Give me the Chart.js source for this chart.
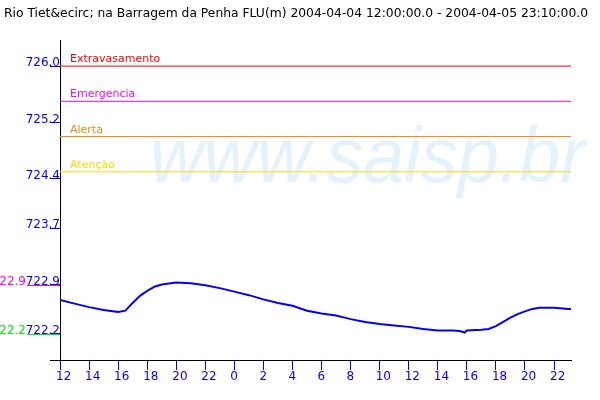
<!DOCTYPE html>
<html><head><meta charset="utf-8">
<script src="https://cdn.jsdelivr.net/npm/chart.js@4/dist/chart.umd.min.js"></script>
<style>html,body{margin:0;padding:0;background:#fff}</style>
</head><body>
<canvas id="c" width="600" height="400"></canvas>
<script>
const titleText = 'Rio Tiet&ecirc; na Barragem da Penha FLU(m) 2004-04-04 12:00:00.0 - 2004-04-05 23:10:00.0';
const watermarkText = 'www.saisp.br';
const startHour = 12;
const endHours = 35 + 10 / 60; // 2004-04-05 23:10
// hours elapsed since 2004-04-04 12:00
const hours = [0, 1, 2, 3, 4, 4.5, 5, 5.5, 6, 6.5, 7, 8, 9, 10, 11, 12, 13, 14, 15, 16, 17, 18, 19, 20, 21, 22, 23, 24, 25, 26, 27, 27.5, 27.85, 28, 29, 29.5, 30, 30.5, 31, 31.5, 32, 32.5, 33, 34, 35, 35 + 10 / 60];
const levels = [722.68, 722.63, 722.58, 722.54, 722.51, 722.53, 722.64, 722.74, 722.81, 722.87, 722.90, 722.93, 722.92, 722.89, 722.85, 722.80, 722.75, 722.69, 722.64, 722.60, 722.53, 722.49, 722.46, 722.41, 722.37, 722.34, 722.32, 722.30, 722.27, 722.25, 722.25, 722.24, 722.22, 722.25, 722.26, 722.27, 722.31, 722.37, 722.43, 722.48, 722.52, 722.555, 722.57, 722.57, 722.555, 722.555];
const thresholdNames = ['Extravasamento', 'Emergencia', 'Alerta', 'Atenção'];
const thresholdValues = [726.0, 725.5, 725.0, 724.5];
const thresholdColors = ['#ff0000', '#ff00ff', '#f7860f', '#ffd800'];
const yTickValues = [722.2, 722.9, 723.7, 724.4, 725.2, 726.0];
const xTickHours = [0, 2, 4, 6, 8, 10, 12, 14, 16, 18, 20, 22, 24, 26, 28, 30, 32, 34];
const markerValues = [722.9, 722.2]; // max / min
const markerColors = ['#ff00ff', '#00ee00'];
const yMin = 721.83, yMax = 726.37;

Chart.defaults.font.family = '"DejaVu Sans", sans-serif';

const datasets = thresholdValues.map((v, i) => ({
  label: thresholdNames[i],
  data: [{x: 0, y: v}, {x: endHours, y: v}],
  borderColor: thresholdColors[i], borderWidth: 1, pointRadius: 0
}));
datasets.push({
  label: 'Nivel',
  data: hours.map((h, i) => ({x: h, y: levels[i]})),
  borderColor: '#0000ff', borderWidth: 2, pointRadius: 0, tension: 0
});

const deco = {
  id: 'deco',
  beforeDraw(chart) {
    const ctx = chart.ctx;
    ctx.save();
    ctx.fillStyle = '#fff';
    ctx.fillRect(0, 0, chart.width, chart.height);
    // watermark
    ctx.font = 'italic 78px "Liberation Sans", sans-serif';
    const w = ctx.measureText(watermarkText).width;
    ctx.translate(150, 182);
    ctx.scale(435 / w, 1);
    ctx.fillStyle = '#e4f3fb';
    ctx.textBaseline = 'alphabetic';
    ctx.fillText(watermarkText, 0, 0);
    ctx.restore();
    // title
    ctx.save();
    ctx.font = '12px "DejaVu Sans", sans-serif';
    const tw = ctx.measureText(titleText).width;
    ctx.translate(4, 17);
    ctx.scale(584 / tw, 1);
    ctx.fillStyle = '#000';
    ctx.fillText(titleText, 0, 0);
    ctx.restore();
  },
  afterDraw(chart) {
    const ctx = chart.ctx, y = chart.scales.y, x = chart.scales.x;
    ctx.save();
    ctx.font = '11px "DejaVu Sans", sans-serif';
    ctx.textBaseline = 'alphabetic';
    thresholdValues.forEach((v, i) => {
      ctx.fillStyle = thresholdColors[i];
      ctx.fillText(thresholdNames[i], x.left + 10, Math.round(y.getPixelForValue(v)) - 4);
    });
    ctx.font = '12px "DejaVu Sans", sans-serif';
    ctx.textAlign = 'right';
    markerValues.forEach((v, i) => {
      const py = Math.round(y.getPixelForValue(v)) + 0.5;
      ctx.strokeStyle = markerColors[i];
      ctx.lineWidth = 1;
      ctx.beginPath(); ctx.moveTo(27, py); ctx.lineTo(x.left, py); ctx.stroke();
      ctx.fillStyle = markerColors[i];
      ctx.fillText(v.toFixed(1), 26, py - 1);
    });
    // axis extension to the left
    ctx.strokeStyle = '#000';
    ctx.beginPath(); ctx.moveTo(50, Math.round(y.bottom) + 0.5); ctx.lineTo(x.left, Math.round(y.bottom) + 0.5); ctx.stroke();
    ctx.restore();
  }
};

new Chart(document.getElementById('c'), {
  type: 'line',
  data: {datasets},
  plugins: [deco],
  options: {
    responsive: false, animation: false, devicePixelRatio: 1,
    layout: {padding: {top: 40, right: 29, bottom: 0, left: 0}},
    plugins: {legend: {display: false}, title: {display: false}, tooltip: {enabled: false}},
    scales: {
      x: {
        type: 'linear', min: 0, max: endHours,
        afterBuildTicks: s => { s.ticks = xTickHours.map(v => ({value: v})); },
        afterFit: s => { s.height = 40; },
        ticks: {callback: v => String((startHour + v) % 24), color: '#0000ff', font: {size: 12},
                align: 'start', labelOffset: -4, padding: 0, maxRotation: 0, autoSkip: false},
        grid: {drawOnChartArea: false, drawTicks: true, tickLength: 10, tickColor: '#0000ff', color: '#0000ff'},
        border: {color: '#000', width: 1}
      },
      y: {
        type: 'linear', min: yMin, max: yMax,
        afterBuildTicks: s => { s.ticks = yTickValues.map(v => ({value: v})); },
        afterFit: s => { s.width = 60; },
        ticks: {callback: v => v.toFixed(1), color: '#0000ff', font: {size: 12},
                padding: -10, labelOffset: -3, autoSkip: false},
        grid: {drawOnChartArea: false, drawTicks: true, tickLength: 10, tickColor: '#0000ff', color: '#0000ff'},
        border: {color: '#000', width: 1}
      }
    }
  }
});
</script>
</body></html>
